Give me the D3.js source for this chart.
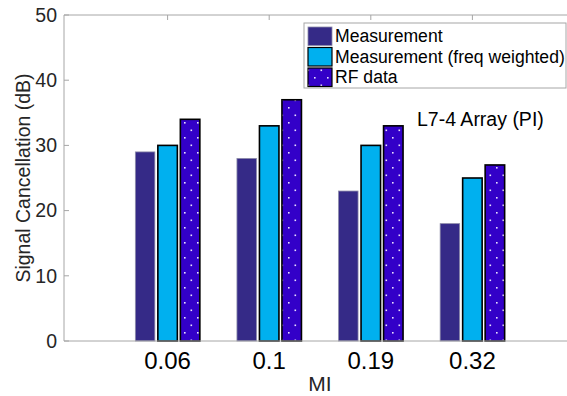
<!DOCTYPE html>
<html><head><meta charset="utf-8">
<script src="https://cdn.jsdelivr.net/npm/d3@7"></script>
<style>body{margin:0;background:#fff}svg{display:block;font-family:"Liberation Sans",Arial,Helvetica,sans-serif}</style>
</head><body><svg id="c" width="567" height="396"></svg>
<script>
const categories = ["0.06", "0.1", "0.19", "0.32"];
const seriesNames = ["Measurement", "Measurement (freq weighted)", "RF data"];
const measurement = [29, 28, 23, 18];
const freqWeighted = [30, 33, 30, 25];
const rfData = [34, 37, 33, 27];
const yTicks = [0, 10, 20, 30, 40, 50];
const colors = ["#352a87", "#00b0ef", "#3300c8"];

(function(){
const svg = d3.select("#c");
const defs = svg.append("defs");
const pat = defs.append("pattern").attr("id","dots").attr("patternUnits","userSpaceOnUse")
  .attr("width",13).attr("height",15);
pat.append("rect").attr("width",13).attr("height",15).attr("fill",colors[2]);
pat.append("rect").attr("x",2).attr("y",2).attr("width",1.6).attr("height",1.6).attr("fill","#e8e0ff");
pat.append("rect").attr("x",8.5).attr("y",9.5).attr("width",1.6).attr("height",1.6).attr("fill","#e8e0ff");

const pL = 64, pR = 575, pT = 15, pB = 341;
const x = d3.scaleLinear().domain([0,5]).range([66, 574]);
const y = d3.scaleLinear().domain([0,50]).range([pB, pT]);
const barW = 19.5, step = 22.5;

const series = [measurement, freqWeighted, rfData];
const fills = [colors[0], colors[1], "url(#dots)"];

const axColor = "#a6a6a6";
svg.append("line").attr("x1",pL).attr("x2",pR).attr("y1",pT).attr("y2",pT).attr("stroke",axColor);
svg.append("line").attr("x1",pL).attr("x2",pL).attr("y1",pT).attr("y2",pB).attr("stroke",axColor);

series.forEach((vals, s) => {
  svg.append("g").selectAll("rect").data(vals).join("rect")
    .attr("x", (d,i) => x(i+1) + (s-1)*step - barW/2)
    .attr("y", d => y(d))
    .attr("width", barW)
    .attr("height", d => y(0) - y(d))
    .attr("fill", fills[s])
    .attr("stroke", s === 0 ? "#8c8aa8" : "#000")
    .attr("stroke-width", s === 0 ? 0.8 : 1.6);
});

svg.append("line").attr("x1",pL).attr("x2",pR).attr("y1",pB).attr("y2",pB).attr("stroke",axColor);

const ya = svg.append("g");
yTicks.forEach(t => {
  ya.append("line").attr("x1",pL).attr("x2",pL+5).attr("y1",y(t)).attr("y2",y(t)).attr("stroke",axColor);
  ya.append("text").attr("x",57).attr("y",y(t)).attr("dy","0.35em").attr("text-anchor","end")
    .attr("font-size",19.5).attr("fill","#262626").text(t);
});
categories.forEach((c,i) => {
  svg.append("line").attr("x1",x(i+1)).attr("x2",x(i+1)).attr("y1",pT).attr("y2",pT+5).attr("stroke",axColor);
  svg.append("text").attr("x",x(i+1)).attr("y",369).attr("text-anchor","middle")
    .attr("font-size",24).attr("fill","#000").text(c);
});

svg.append("text").attr("x",320).attr("y",391).attr("text-anchor","middle").attr("font-size",21)
  .attr("fill","#262626").text("MI");
svg.append("text").attr("transform","translate(30,178) rotate(-90)").attr("text-anchor","middle")
  .attr("font-size",19.5).attr("fill","#262626").text("Signal Cancellation (dB)");

svg.append("text").attr("x",417).attr("y",126).attr("font-size",19.5).attr("fill","#000").text("L7-4 Array (PI)");

const lg = svg.append("g");
lg.append("rect").attr("x",304).attr("y",23).attr("width",262).attr("height",65)
  .attr("fill","#fff").attr("stroke","#a6a6a6");
seriesNames.forEach((n,i) => {
  const yy = 27 + i*20.5;
  lg.append("rect").attr("x",308).attr("y",yy).attr("width",24).attr("height",18.5)
    .attr("fill",fills[i]).attr("stroke", i===0 ? "#8c8aa8" : "#000").attr("stroke-width", i===0?0.8:1.2);
  lg.append("text").attr("x",335).attr("y",yy+15).attr("font-size",17.6)
    .attr("fill","#000").text(n);
});
})();
</script></body></html>
